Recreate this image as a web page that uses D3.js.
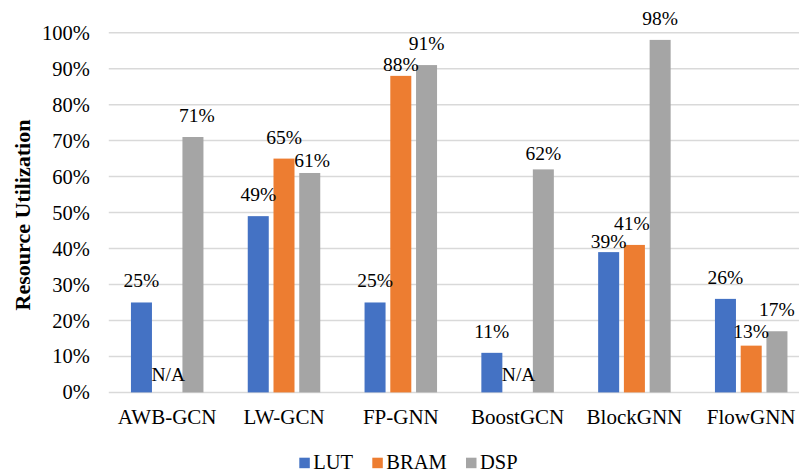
<!DOCTYPE html>
<html>
<head>
<meta charset="utf-8">
<script src="https://cdn.jsdelivr.net/npm/d3@7"></script>
<style>
  html, body { margin: 0; padding: 0; background: #fff; }
</style>
</head>
<body>
<svg id="chart" width="799" height="472"></svg>
<script>
// Accelerator designs and their FPGA resource usage (percent)
const categories = ["AWB-GCN", "LW-GCN", "FP-GNN", "BoostGCN", "BlockGNN", "FlowGNN"];
const seriesNames = ["LUT", "BRAM", "DSP"];
const lutValues  = [25, 49, 25, 11, 39, 26];
const bramValues = [null, 65, 88, null, 41, 13];   // null = not reported
const dspValues  = [71, 61, 91, 62, 98, 17];
const yTicks = [0, 10, 20, 30, 40, 50, 60, 70, 80, 90, 100];

const colors = { LUT: "#4472C4", BRAM: "#ED7D31", DSP: "#A5A5A5" };
const valuesBySeries = { LUT: lutValues, BRAM: bramValues, DSP: dspValues };
const serif = "Liberation Serif";

const svg = d3.select("#chart");
const plot = { left: 108.8, right: 809.6, top: 32.7, bottom: 392.4 };

const x0 = d3.scaleBand().domain(categories).range([plot.left, plot.right]).padding(0);
const groupWidth = 72.5;
const x1 = d3.scaleBand().domain(seriesNames).range([0, groupWidth]).paddingInner(0.184).paddingOuter(0);
const y = d3.scaleLinear().domain([0, 100]).range([plot.bottom, plot.top]);

const groupStart = c => x0(c) + (x0.bandwidth() - groupWidth) / 2;

// Gridlines
svg.append("g")
  .selectAll("line")
  .data(yTicks)
  .join("line")
  .attr("x1", plot.left).attr("x2", plot.right)
  .attr("y1", d => y(d)).attr("y2", d => y(d))
  .attr("stroke", "#D9D9D9").attr("stroke-width", 1.5);

// Y axis labels
const yAxis = d3.axisLeft(y).tickValues(yTicks).tickFormat(d => d + "%").tickSize(0).tickPadding(19);
const yG = svg.append("g").attr("transform", `translate(${plot.left},0)`).call(yAxis);
yG.select(".domain").remove();
yG.selectAll("text")
  .attr("font-family", serif).attr("font-size", 20.5).attr("fill", "#000");

// X axis labels
const xAxis = d3.axisBottom(x0).tickSize(0).tickPadding(0);
const xG = svg.append("g").attr("transform", `translate(0,${plot.bottom})`).call(xAxis);
xG.select(".domain").remove();
xG.selectAll("text")
  .attr("font-family", serif).attr("font-size", 21).attr("fill", "#000")
  .attr("dy", null).attr("y", 31.6);

// Flattened bar records
const records = [];
categories.forEach((c, i) => {
  seriesNames.forEach(s => {
    records.push({ category: c, series: s, value: valuesBySeries[s][i] });
  });
});

// Bars
svg.append("g")
  .selectAll("rect")
  .data(records.filter(d => d.value != null))
  .join("rect")
  .attr("x", d => groupStart(d.category) + x1(d.series))
  .attr("width", x1.bandwidth())
  .attr("y", d => y(d.value))
  .attr("height", d => y(0) - y(d.value))
  .attr("fill", d => colors[d.series]);

// Some labels are pulled closer to the bar tops so they do not collide
const labelNudge = {
  "AWB-GCN|DSP": [4, 0],
  "LW-GCN|DSP": [2.4, 8.7],
  "FP-GNN|BRAM": [0, 9.7],
  "BoostGCN|DSP": [0, 5.6],
  "BlockGNN|LUT": [0, 11],
  "BlockGNN|BRAM": [-2.5, 0],
  "FlowGNN|BRAM": [0, 7.6]
};

svg.append("g")
  .selectAll("text")
  .data(records)
  .join("text")
  .attr("font-family", serif)
  .attr("text-anchor", "middle")
  .attr("font-size", 19.5)
  .attr("fill", "#000")
  .attr("x", d => {
    const n = labelNudge[d.category + "|" + d.series] || [0, 0];
    return groupStart(d.category) + x1(d.series) + x1.bandwidth() / 2 + n[0] + (d.value == null ? 1 : 0);
  })
  .attr("y", d => {
    const n = labelNudge[d.category + "|" + d.series] || [0, 0];
    return d.value == null ? y(0) - 11.4 : y(d.value) - 15 + n[1];
  })
  .text(d => d.value == null ? "N/A" : d.value + "%");

// Y axis title
svg.append("text")
  .attr("transform", "translate(30,215) rotate(-90)")
  .attr("text-anchor", "middle")
  .attr("font-family", serif)
  .attr("font-size", 22)
  .attr("font-weight", "bold")
  .text("Resource Utilization");

// Legend
const legendItems = [
  { name: "LUT", x: 299.3 },
  { name: "BRAM", x: 372.3 },
  { name: "DSP", x: 466 }
];
const legend = svg.append("g");
legend.selectAll("rect")
  .data(legendItems)
  .join("rect")
  .attr("x", d => d.x).attr("y", 457.7)
  .attr("width", 10.5).attr("height", 10.5)
  .attr("fill", d => colors[d.name]);
legend.selectAll("text")
  .data(legendItems)
  .join("text")
  .attr("font-family", serif)
  .attr("x", d => d.x + 14)
  .attr("y", 469.3)
  .attr("font-size", 20.5)
  .text(d => d.name);
</script>
</body>
</html>
